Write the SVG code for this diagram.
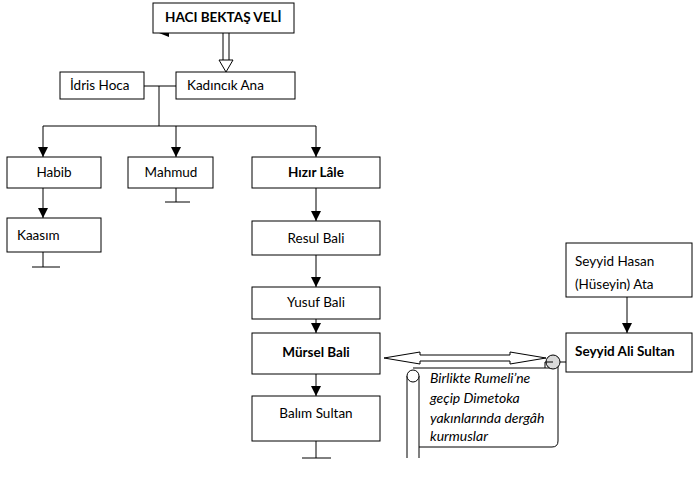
<svg xmlns="http://www.w3.org/2000/svg" width="693" height="492" viewBox="0 0 693 492">
<defs>
<marker id="ah" viewBox="0 0 10 10" refX="10" refY="5" markerWidth="10" markerHeight="10" markerUnits="userSpaceOnUse" orient="auto">
<path d="M0,0 L10,5 L0,10 Z" fill="#000"/>
</marker>
</defs>
<style>
.box{fill:#fff;stroke:#000;stroke-width:1}
.ln{fill:none;stroke:#000;stroke-width:1}
.t{font-family:Lato,"Open Sans","Liberation Sans",sans-serif;font-size:13.5px;fill:#000}
.b{font-weight:bold}
.c{text-anchor:middle}
.i{font-style:italic;font-size:14px}
</style>
<rect width="693" height="492" fill="#fff"/>
<g id="connectors">
<path d="M169,29 L159,33 L169,37 Z" fill="#000"/>
<path class="ln" d="M223,33 V60 M229,33 V60"/>
<path d="M219,60 L233,60 L226,72 Z" fill="#fff" stroke="#000"/>
<path class="ln" d="M144,86 H176 M159,86 V126 M43,126 H316"/>
<path class="ln" d="M43,126 V157" marker-end="url(#ah)"/>
<path class="ln" d="M176,126 V157" marker-end="url(#ah)"/>
<path class="ln" d="M316,126 V157" marker-end="url(#ah)"/>
<path class="ln" d="M43,188 V218" marker-end="url(#ah)"/>
<path class="ln" d="M43,252 V267 M32,267 H60"/>
<path class="ln" d="M176,188 V202 M165,202 H190"/>
<path class="ln" d="M316,188 V221" marker-end="url(#ah)"/>
<path class="ln" d="M316,255 V287" marker-end="url(#ah)"/>
<path class="ln" d="M316,319 V333" marker-end="url(#ah)"/>
<path class="ln" d="M316,374 V396" marker-end="url(#ah)"/>
<path class="ln" d="M316,441 V458 M302,458 H331"/>
<path class="ln" d="M627,297 V333" marker-end="url(#ah)"/>
</g>
<g id="scroll">
<path class="ln" d="M407,376 V458 M419,376 V458"/>
<path d="M413,368 H553 M558,362 V441 Q558,447 552,447 H419" class="ln"/>
<circle cx="413" cy="376" r="6" fill="#fff" stroke="#000"/>
<circle cx="553" cy="362" r="7" fill="#d9d9d9" stroke="#000"/>
<path class="ln" d="M545,368 V362 H553 M560,362 H566"/>
<text class="t i" x="430" y="383">Birlikte Rumeli’ne</text>
<text class="t i" x="430" y="403">geçip Dimetoka</text>
<text class="t i" x="430" y="423">yakınlarında dergâh</text>
<text class="t i" x="430" y="441">kurmuslar</text>
</g>
<g id="double-arrow">
<path d="M384,358 L420,352 L420,355 L510,355 L510,352 L546,358 L510,364 L510,361 L420,361 L420,364 Z" fill="#fff" stroke="#000"/>
</g>
<g id="haci"><rect class="box" x="153" y="3" width="141" height="30"/><text class="t b" x="165" y="22">HACI BEKTAŞ VELİ</text></g>
<g id="idris"><rect class="box" x="60" y="72" width="84" height="27"/><text class="t" x="70" y="90">İdris Hoca</text></g>
<g id="kadincik"><rect class="box" x="176" y="72" width="119" height="27"/><text class="t" x="187" y="90">Kadıncık Ana</text></g>
<g id="habib"><rect class="box" x="7" y="157" width="94" height="31"/><text class="t c" x="54" y="177">Habib</text></g>
<g id="mahmud"><rect class="box" x="128" y="157" width="85" height="31"/><text class="t c" x="171" y="177">Mahmud</text></g>
<g id="hizir"><rect class="box" x="252" y="157" width="128" height="31"/><text class="t b c" x="316" y="177">Hızır Lâle</text></g>
<g id="kaasim"><rect class="box" x="7" y="218" width="94" height="34"/><text class="t" x="17" y="240">Kaasım</text></g>
<g id="resul"><rect class="box" x="252" y="221" width="128" height="34"/><text class="t c" x="316" y="243">Resul Bali</text></g>
<g id="yusuf"><rect class="box" x="252" y="287" width="128" height="32"/><text class="t c" x="316" y="307">Yusuf Bali</text></g>
<g id="mursel"><rect class="box" x="252" y="333" width="128" height="41"/><text class="t b c" x="316" y="357">Mürsel Bali</text></g>
<g id="balim"><rect class="box" x="252" y="396" width="128" height="45"/><text class="t c" x="316" y="418">Balım Sultan</text></g>
<g id="hasan"><rect class="box" x="566" y="243" width="126" height="54"/><text class="t" x="575" y="266">Seyyid Hasan</text><text class="t" x="575" y="289">(Hüseyin) Ata</text></g>
<g id="ali"><rect class="box" x="566" y="333" width="126" height="39"/><text class="t b" x="575" y="356">Seyyid Ali Sultan</text></g>
</svg>
